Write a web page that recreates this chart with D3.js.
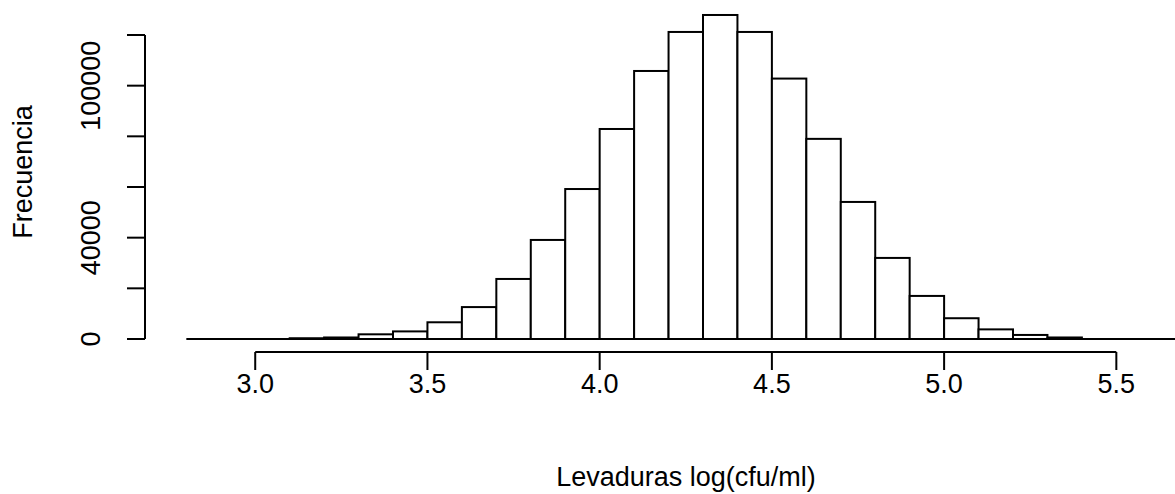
<!DOCTYPE html>
<html>
<head>
  <script src="https://d3js.org/d3.v7.min.js"></script>
  <style>
    body {
      margin: 0;
      background-color: #fff;
      overflow: hidden;
    }
    text {
      font-family: Arial, "Liberation Sans", sans-serif;
      fill: #000;
    }
  </style>
</head>
<body>
  <script>
    // histogram breaks (width 0.1) and counts per bin
    const breaks = [2.8, 2.9, 3.0, 3.1, 3.2, 3.3, 3.4, 3.5, 3.6, 3.7, 3.8, 3.9, 4.0, 4.1, 4.2,
                    4.3, 4.4, 4.5, 4.6, 4.7, 4.8, 4.9, 5.0, 5.1, 5.2, 5.3, 5.4, 5.5, 5.6, 5.7, 5.8];
    const counts = [0, 0, 0, 300, 600, 1850, 3000, 6600, 12600, 23700, 39100, 59200, 82900, 105800, 121200,
                    127900, 121200, 102800, 79000, 54100, 32000, 17000, 8200, 3800, 1600, 600, 0, 0, 0, 0];

    const xTicks = [3.0, 3.5, 4.0, 4.5, 5.0, 5.5];
    const yTicks = [0, 20000, 40000, 60000, 80000, 100000, 120000];
    const yTickLabels = [0, 40000, 100000];

    const xLabel = "Levaduras log(cfu/ml)";
    const yLabel = "Frecuencia";

    const width = 1175;
    const height = 494;
    const fontSize = 27;

    const svg = d3.select("body").append("svg")
      .attr("width", width)
      .attr("height", height);

    const x = d3.scaleLinear().domain([2.68, 5.92]).range([145, 1261]);
    const y = d3.scaleLinear().domain([0, 120000]).range([339, 35]);

    const bins = counts.map((c, i) => ({ x0: breaks[i], x1: breaks[i + 1], count: c }));

    // baseline (zero-count bins draw as a flat line)
    svg.append("line")
      .attr("x1", x(breaks[0]))
      .attr("x2", x(breaks[breaks.length - 1]))
      .attr("y1", y(0))
      .attr("y2", y(0))
      .attr("stroke", "#000")
      .attr("stroke-width", 2);

    svg.append("g")
      .selectAll("rect")
      .data(bins.filter(d => d.count > 0))
      .enter().append("rect")
      .attr("x", d => x(d.x0))
      .attr("y", d => y(d.count))
      .attr("width", d => x(d.x1) - x(d.x0))
      .attr("height", d => y(0) - y(d.count))
      .attr("fill", "#fff")
      .attr("stroke", "#000")
      .attr("stroke-width", 2);

    // x axis, R style: line from first to last tick, ticks down
    const axisY = 352;
    const tickLen = 18;
    const gx = svg.append("g");
    gx.append("line")
      .attr("x1", x(xTicks[0])).attr("x2", x(xTicks[xTicks.length - 1]))
      .attr("y1", axisY).attr("y2", axisY)
      .attr("stroke", "#000").attr("stroke-width", 2);
    gx.selectAll("line.tick")
      .data(xTicks)
      .enter().append("line")
      .attr("class", "tick")
      .attr("x1", d => x(d)).attr("x2", d => x(d))
      .attr("y1", axisY).attr("y2", axisY + tickLen)
      .attr("stroke", "#000").attr("stroke-width", 2);
    gx.selectAll("text")
      .data(xTicks)
      .enter().append("text")
      .attr("x", d => x(d))
      .attr("y", 393)
      .attr("text-anchor", "middle")
      .attr("font-size", fontSize)
      .text(d => d3.format(".1f")(d));

    // y axis
    const axisX = 145;
    const gy = svg.append("g");
    gy.append("line")
      .attr("x1", axisX).attr("x2", axisX)
      .attr("y1", y(yTicks[0])).attr("y2", y(yTicks[yTicks.length - 1]))
      .attr("stroke", "#000").attr("stroke-width", 2);
    gy.selectAll("line.tick")
      .data(yTicks)
      .enter().append("line")
      .attr("class", "tick")
      .attr("x1", axisX - tickLen).attr("x2", axisX)
      .attr("y1", d => y(d)).attr("y2", d => y(d))
      .attr("stroke", "#000").attr("stroke-width", 2);
    gy.selectAll("text")
      .data(yTickLabels)
      .enter().append("text")
      .attr("transform", d => `translate(100,${y(d)}) rotate(-90)`)
      .attr("text-anchor", "middle")
      .attr("font-size", fontSize)
      .text(d => d);

    // axis titles
    svg.append("text")
      .attr("x", 686)
      .attr("y", 486)
      .attr("text-anchor", "middle")
      .attr("font-size", fontSize)
      .text(xLabel);

    svg.append("text")
      .attr("transform", "translate(32,172) rotate(-90)")
      .attr("text-anchor", "middle")
      .attr("font-size", fontSize)
      .text(yLabel);
  </script>
</body>
</html>
